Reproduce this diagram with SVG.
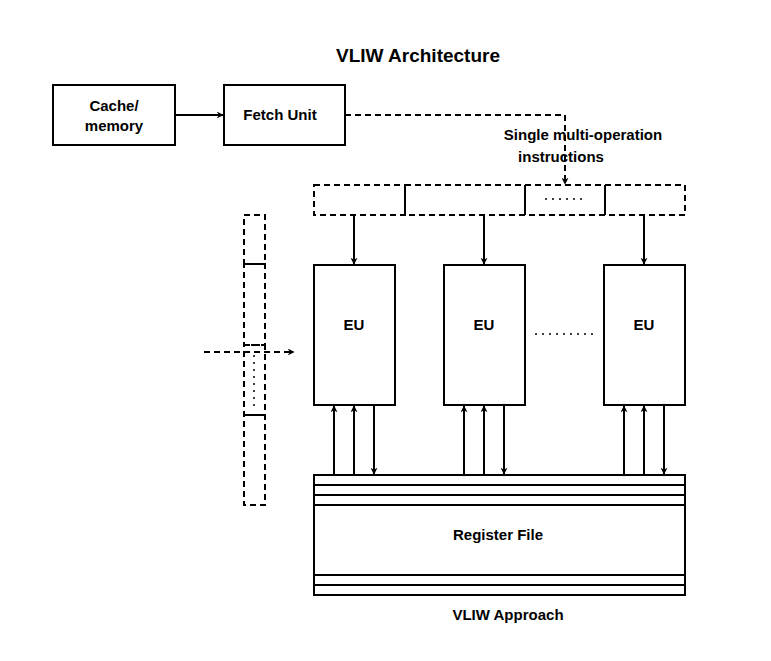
<svg xmlns="http://www.w3.org/2000/svg" width="771" height="661" viewBox="0 0 771 661">
<style>
text{font-family:"Liberation Sans",Arial,sans-serif;font-weight:bold;fill:#000;text-anchor:middle}
.b{fill:#fff;stroke:#000;stroke-width:2}
.d{fill:none;stroke:#000;stroke-width:2;stroke-dasharray:6 4}
.l{fill:none;stroke:#000;stroke-width:2}
.t{fill:none;stroke:#000;stroke-width:1.5;stroke-dasharray:2 5}
</style>
<defs><marker id="a" viewBox="0 0 10 10" refX="9" refY="5" markerWidth="7" markerHeight="7" markerUnits="userSpaceOnUse" orient="auto"><path d="M0,0L10,5L0,10L3,5z" fill="#000"/></marker></defs>
<rect width="771" height="661" fill="#fff"/>
<text x="418" y="62" font-size="19">VLIW Architecture</text>
<g id="cache"><rect class="b" x="53" y="85" width="122" height="60"/><text x="114" y="111" font-size="15">Cache/</text><text x="114" y="131" font-size="15">memory</text></g>
<g id="fetch"><rect class="b" x="224" y="85" width="121" height="60"/><text x="280" y="120" font-size="15">Fetch Unit</text></g>
<g id="label"><text x="583" y="140" font-size="15">Single multi-operation</text><text x="561" y="162" font-size="15">instructions</text></g>
<g id="instr"><rect class="d" x="314" y="185" width="91" height="30"/><rect class="d" x="405" y="185" width="120" height="30"/><rect class="d" x="525" y="185" width="80" height="30"/><rect class="d" x="605" y="185" width="80" height="30"/><line class="t" x1="545" y1="199" x2="582" y2="199"/></g>
<g id="pipe"><rect class="d" x="244" y="215" width="21" height="49"/><rect class="d" x="244" y="264" width="21" height="81"/><rect class="d" x="244" y="345" width="21" height="70"/><rect class="d" x="244" y="415" width="21" height="90"/><line class="t" x1="254" y1="355" x2="254" y2="408"/></g>
<g id="eu1"><rect class="b" x="314" y="265" width="81" height="140"/><text x="354" y="330" font-size="15">EU</text></g>
<g id="eu2"><rect class="b" x="444" y="265" width="81" height="140"/><text x="484" y="330" font-size="15">EU</text></g>
<g id="eu3"><rect class="b" x="604" y="265" width="81" height="140"/><text x="644" y="330" font-size="15">EU</text></g>
<line class="t" x1="535" y1="334" x2="595" y2="334"/>
<g id="regfile"><rect class="b" x="314" y="475" width="371" height="120"/><path class="l" d="M314,485H685M314,495H685M314,505H685M314,575H685M314,585H685"/><text x="498" y="540" font-size="15">Register File</text></g>
<text x="508" y="620" font-size="15">VLIW Approach</text>
<g id="connectors">
<line class="l" x1="175" y1="115" x2="223" y2="115" marker-end="url(#a)"/>
<path class="d" d="M345,115H565V184" marker-end="url(#a)"/>
<line class="d" x1="204" y1="352" x2="294" y2="352" marker-end="url(#a)"/>
<g class="l" marker-end="url(#a)">
<line class="l" x1="354" y1="215" x2="354" y2="264" marker-end="url(#a)"/>
<line class="l" x1="484" y1="215" x2="484" y2="264" marker-end="url(#a)"/>
<line class="l" x1="644" y1="215" x2="644" y2="264" marker-end="url(#a)"/>
<line class="l" x1="334" y1="475" x2="334" y2="406" marker-end="url(#a)"/>
<line class="l" x1="354" y1="475" x2="354" y2="406" marker-end="url(#a)"/>
<line class="l" x1="374" y1="405" x2="374" y2="474" marker-end="url(#a)"/>
<line class="l" x1="464" y1="475" x2="464" y2="406" marker-end="url(#a)"/>
<line class="l" x1="484" y1="475" x2="484" y2="406" marker-end="url(#a)"/>
<line class="l" x1="504" y1="405" x2="504" y2="474" marker-end="url(#a)"/>
<line class="l" x1="624" y1="475" x2="624" y2="406" marker-end="url(#a)"/>
<line class="l" x1="644" y1="475" x2="644" y2="406" marker-end="url(#a)"/>
<line class="l" x1="664" y1="405" x2="664" y2="474" marker-end="url(#a)"/>
</g>
</g>
</svg>
